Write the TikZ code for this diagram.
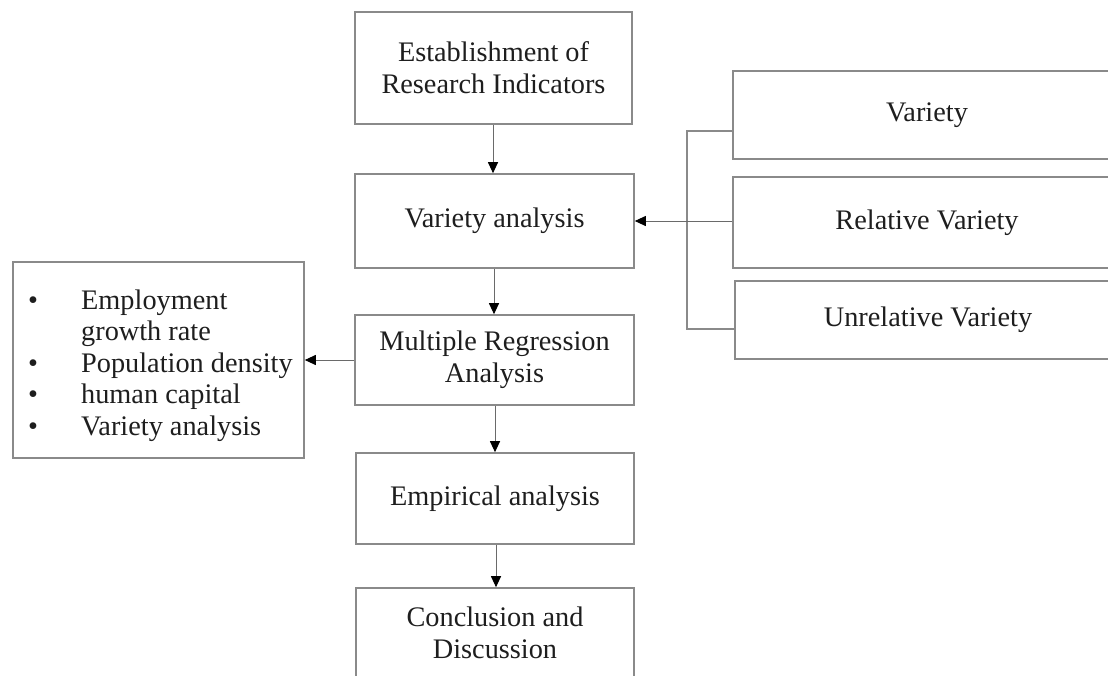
\documentclass[tikz,border=0pt]{standalone}
\usepackage{fontspec}
\setmainfont{Liberation Serif}
\usetikzlibrary{arrows.meta}
\definecolor{boxline}{HTML}{8A8A8A}
\definecolor{arrline}{HTML}{6A6A6A}
\definecolor{txt}{HTML}{1E1E1E}
\begin{document}
\begin{tikzpicture}[x=1pt,y=-1pt,
  box/.style={draw=boxline,line width=1.6pt,rectangle,inner sep=0pt,align=center,text=txt,
    font=\fontsize{28.3}{32}\selectfont},
  conn/.style={draw=arrline,line width=1pt},
  arr/.style={conn,-{Triangle[length=11pt,width=10pt,fill=black,color=black]}}]
\clip (0,0) rectangle (1108,675);
\fill[white] (0,0) rectangle (1108,675);
% main column
\node[box,minimum width=277pt,minimum height=112pt] (b1) at (493.5,68) {Establishment of\\Research Indicators};
\node[box,minimum width=279pt,minimum height=94pt] (b2) at (494.5,221) {Variety analysis};
\node[box,minimum width=279pt,minimum height=90pt] (b3) at (494.5,360) {Multiple Regression\\Analysis};
\node[box,minimum width=278pt,minimum height=91pt] (b4) at (495,498.5) {Empirical analysis};
\node[box,minimum width=278pt,minimum height=90pt] (b5) at (495,633) {Conclusion and\\Discussion};
% left list box
\node[box,minimum width=291pt,minimum height=196pt] (L) at (158.5,360) {};
\node[anchor=west,inner sep=0pt,text=txt,font=\fontsize{28.3}{31.5}\selectfont] (Lt) at (28,366)
 {\begin{tabular}{@{}p{53pt}@{}l@{}}
 \textbullet & Employment\\
  & growth rate\\
 \textbullet & Population density\\
 \textbullet & human capital\\
 \textbullet & Variety analysis
 \end{tabular}};
% right boxes
\node[box,minimum width=388pt,minimum height=88pt] (r1) at (927,115) {Variety};
\node[box,minimum width=388pt,minimum height=91pt] (r2) at (927,222.5) {Relative Variety};
\node[box,minimum width=386pt,minimum height=78pt] (r3) at (928,320) {Unrelative Variety};
% bracket
\coordinate (k1) at (687,131);
\coordinate (k3) at (687,329);
\draw[conn,draw=boxline,line width=1.4pt] (r1.west |- k1) -- (k1) -- (k3) -- (r3.west |- k3);
% arrows
\draw[arr] (b1.south -| 493,0) -- (b2.north -| 493,0);
\draw[arr] (b2.south -| 494,0) -- (b3.north -| 494,0);
\draw[arr] (b3.south -| 495,0) -- (b4.north -| 495,0);
\draw[arr] (b4.south -| 496,0) -- (b5.north -| 496,0);
\draw[arr] (r2.west |- b2.east) -- (b2.east);
\draw[arr] (b3.west) -- (L.east |- b3.west);
\end{tikzpicture}
\end{document}
